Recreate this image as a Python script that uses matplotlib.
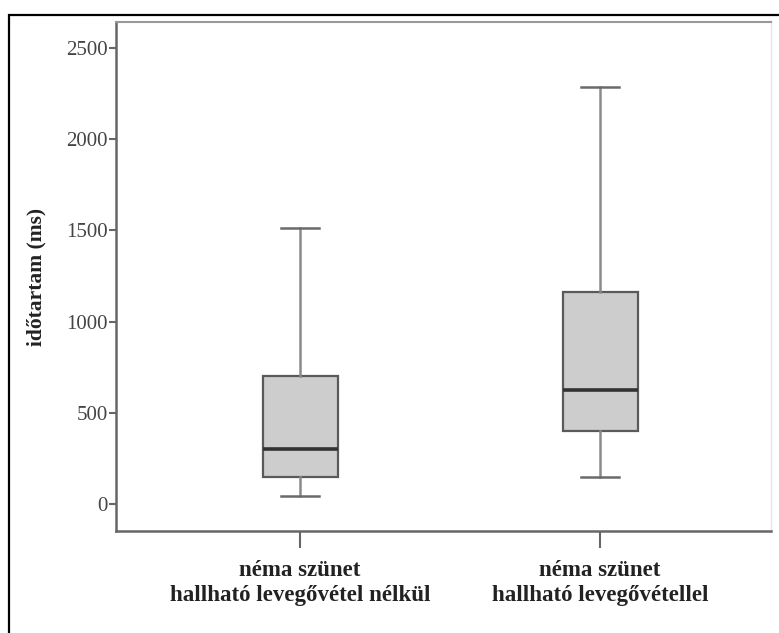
import matplotlib
matplotlib.use("Agg")
import matplotlib.pyplot as plt
from matplotlib.patches import Rectangle

# adatok (leolvasva az abrarol)
categories = ["néma szünet\nhallható levegővétel nélkül",
              "néma szünet\nhallható levegővétellel"]
whislo = [45, 148]
q1 = [150, 400]
med = [302, 625]
q3 = [700, 1162]
whishi = [1512, 2286]
yticks = [0, 500, 1000, 1500, 2000, 2500]

plt.rcParams['font.family'] = ['Liberation Serif', 'DejaVu Serif']

fig = plt.figure(figsize=(7.79, 6.33), dpi=100)
ax = fig.add_axes([116/779, 1 - 531/633, (771-116)/779, (531-22)/633])

stats = []
for i in range(len(categories)):
    stats.append(dict(whislo=whislo[i], q1=q1[i], med=med[i], q3=q3[i],
                      whishi=whishi[i], fliers=[]))

ax.bxp(stats, positions=[1, 2], widths=0.25, patch_artist=True,
       showfliers=False, capwidths=0.127,
       boxprops=dict(facecolor='#cdcdcd', edgecolor='#5a5a5a', linewidth=1.6),
       medianprops=dict(color='#333333', linewidth=2.6),
       whiskerprops=dict(color='#8a8a8a', linewidth=1.8),
       capprops=dict(color='#6a6a6a', linewidth=1.8))

ax.set_xlim(1 - 184/300, 2 + 171/300)
ax.set_ylim(-148, 2643)
ax.set_yticks(yticks)
ax.set_yticklabels([str(t) for t in yticks], fontsize=15, color='#444444')
ax.set_xticks([1, 2])
ax.set_xticklabels(categories, fontsize=16.5, fontweight='bold',
                   color='#222222', linespacing=1.25)
ax.tick_params(axis='y', length=5, width=1.5, color='#666666', pad=1)
ax.tick_params(axis='x', length=12, width=1.5, color='#666666', pad=9)

ax.set_ylabel('időtartam (ms)', fontsize=15.5, fontweight='bold',
              color='#222222', labelpad=14)

for s in ['left', 'bottom']:
    ax.spines[s].set_color('#666666')
    ax.spines[s].set_linewidth(1.8)
ax.spines['top'].set_color('#999999')
ax.spines['top'].set_linewidth(1.5)
ax.spines['right'].set_color('#e6e6e6')
ax.spines['right'].set_linewidth(1.0)

# kulso keret
frame = Rectangle((9/779, -0.1), 1.2, 1 - 15/633 + 0.1,
                  transform=fig.transFigure, fill=False,
                  edgecolor='black', linewidth=1.6, clip_on=False)
fig.patches.append(frame)

fig.savefig('out.png', dpi=100)
